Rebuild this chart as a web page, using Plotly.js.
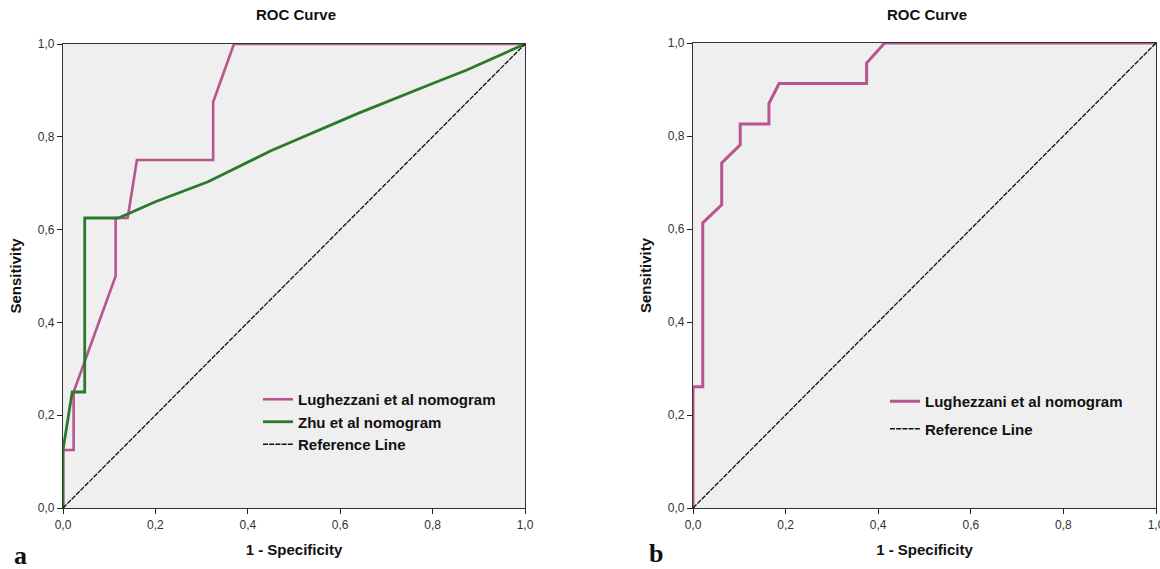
<!DOCTYPE html>
<html>
<head>
<meta charset="utf-8">
<script src="https://cdn.plot.ly/plotly-3.0.1.min.js"></script>
<style>html,body{margin:0;padding:0;background:#fff;}#chart{width:1160px;height:569px;}</style>
</head>
<body>
<div id="chart"></div>
<script>
// Panel a: Lughezzani et al nomogram
const aLughX = [0, 0, 0.023, 0.023, 0.114, 0.114, 0.14, 0.16, 0.325, 0.325, 0.37, 1];
const aLughY = [0, 0.125, 0.125, 0.25, 0.5, 0.625, 0.625, 0.75, 0.75, 0.875, 1, 1];
// Panel a: Zhu et al nomogram
const aZhuX = [0, 0, 0.02, 0.047, 0.047, 0.12, 0.2, 0.314, 0.45, 0.64, 0.8, 0.874, 1];
const aZhuY = [0, 0.125, 0.25, 0.25, 0.625, 0.625, 0.66, 0.703, 0.77, 0.851, 0.915, 0.944, 1];
// Panel b: Lughezzani et al nomogram
const bLughX = [0, 0, 0.021, 0.021, 0.043, 0.062, 0.062, 0.102, 0.102, 0.164, 0.164, 0.186, 0.375, 0.375, 0.414, 1];
const bLughY = [0, 0.261, 0.261, 0.613, 0.634, 0.652, 0.742, 0.781, 0.826, 0.826, 0.87, 0.913, 0.913, 0.957, 1, 1];
// Reference line
const refX = [0, 1];
const refY = [0, 1];

const nameLugh = 'Lughezzani et al nomogram';
const nameZhu = 'Zhu et al nomogram';
const nameRef = 'Reference Line';
const tickVals = [0, 0.2, 0.4, 0.6, 0.8, 1.0];

const pink = '#b8558f';
const green = '#2b7a2b';

const traces = [
  {x: aLughX, y: aLughY, type: 'scatter', mode: 'lines', name: nameLugh,
   line: {color: pink, width: 2.6}, xaxis: 'x', yaxis: 'y', legend: 'legend'},
  {x: aZhuX, y: aZhuY, type: 'scatter', mode: 'lines', name: nameZhu,
   line: {color: green, width: 2.8}, xaxis: 'x', yaxis: 'y', legend: 'legend'},
  {x: refX, y: refY, type: 'scatter', mode: 'lines', name: nameRef,
   line: {color: '#111', width: 1.3, dash: '5px,1.2px'}, xaxis: 'x', yaxis: 'y', legend: 'legend'},
  {x: bLughX, y: bLughY, type: 'scatter', mode: 'lines', name: nameLugh,
   line: {color: pink, width: 3}, xaxis: 'x2', yaxis: 'y2', legend: 'legend2', legendgroup: 'g1'},
  {x: refX, y: refY, type: 'scatter', mode: 'lines', name: nameRef,
   line: {color: '#111', width: 1.3, dash: '5px,1.2px'}, xaxis: 'x2', yaxis: 'y2', legend: 'legend2', legendgroup: 'g2'}
];

const W = 1160, H = 569;
function axisCommon(extra) {
  return Object.assign({
    range: [0, 1], tickvals: tickVals, tickformat: '.1f',
    ticks: 'outside', ticklen: 5, tickwidth: 1, tickcolor: '#222',
    showline: true, linecolor: '#333', linewidth: 1.2, mirror: true,
    showgrid: false, zeroline: false, fixedrange: true,
    ticklabeloverflow: 'allow',
    tickfont: {family: 'Arial, Liberation Sans, sans-serif', size: 12, color: '#333'}
  }, extra);
}
const titleFont = {family: 'Arial, Liberation Sans, sans-serif', size: 15, color: '#111', weight: 'bold'};
const legendFont = {family: 'Arial, Liberation Sans, sans-serif', size: 15, color: '#111', weight: 'bold'};

const layout = {
  width: W, height: H,
  margin: {l: 0, r: 0, t: 0, b: 0},
  paper_bgcolor: '#ffffff',
  plot_bgcolor: '#efefef',
  separators: ',.',
  showlegend: true,
  xaxis: axisCommon({domain: [63 / W, 525 / W], anchor: 'y',
    title: {text: '1 - Specificity', font: titleFont, standoff: 14}}),
  yaxis: axisCommon({domain: [(H - 508) / H, (H - 44) / H], anchor: 'x',
    title: {text: 'Sensitivity', font: titleFont, standoff: 12}}),
  xaxis2: axisCommon({domain: [693 / W, 1156 / W], anchor: 'y2',
    title: {text: '1 - Specificity', font: titleFont, standoff: 14}}),
  yaxis2: axisCommon({domain: [(H - 508) / H, (H - 43) / H], anchor: 'x2',
    title: {text: 'Sensitivity', font: titleFont, standoff: 12}}),
  legend: {x: 258 / W, y: (H - 383) / H, xanchor: 'left', yanchor: 'top',
    bgcolor: 'rgba(0,0,0,0)', borderwidth: 0, tracegroupgap: 0,
    font: legendFont},
  legend2: {x: 885 / W, y: (H - 385) / H, xanchor: 'left', yanchor: 'top',
    bgcolor: 'rgba(0,0,0,0)', borderwidth: 0, tracegroupgap: 5,
    font: legendFont},
  annotations: [
    {text: 'ROC Curve', x: 296 / W, y: (H - 14) / H, xref: 'paper', yref: 'paper',
     xanchor: 'center', yanchor: 'middle', showarrow: false, font: titleFont},
    {text: 'ROC Curve', x: 927 / W, y: (H - 14) / H, xref: 'paper', yref: 'paper',
     xanchor: 'center', yanchor: 'middle', showarrow: false, font: titleFont},
    {text: 'a', x: 20 / W, y: (H - 555) / H, xref: 'paper', yref: 'paper',
     xanchor: 'center', yanchor: 'middle', showarrow: false,
     font: {family: 'Liberation Serif, Times New Roman, serif', size: 26, color: '#111', weight: 'bold'}},
    {text: 'b', x: 656 / W, y: (H - 553) / H, xref: 'paper', yref: 'paper',
     xanchor: 'center', yanchor: 'middle', showarrow: false,
     font: {family: 'Liberation Serif, Times New Roman, serif', size: 26, color: '#111', weight: 'bold'}}
  ]
};

Plotly.newPlot('chart', traces, layout, {displayModeBar: false, staticPlot: true});
</script>
</body>
</html>
